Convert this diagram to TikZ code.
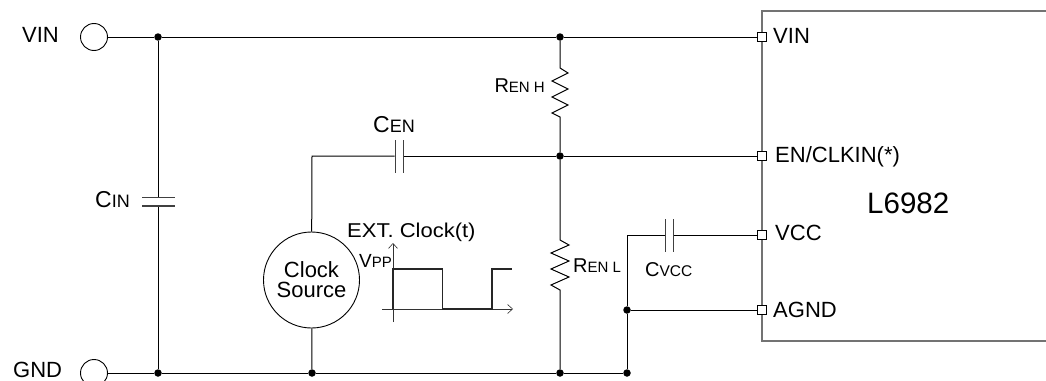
\documentclass[tikz,border=0pt]{standalone}
\usepackage{fontspec}
\setmainfont{Liberation Sans}
\usetikzlibrary{arrows.meta}
\newcommand{\fs}[1]{\fontsize{#1}{#1}\selectfont}
\begin{document}
\begin{tikzpicture}[x=1pt,y=-1pt,
  wire/.style={line width=1pt, black},
  dotnode/.style={circle, fill=black, inner sep=0pt, minimum size=7.5pt},
  term/.style={circle, draw, line width=0.9pt, minimum size=27pt, inner sep=0pt},
  pinbox/.style={rectangle, draw, line width=0.7pt, minimum size=9pt, inner sep=0pt, fill=white},
  hplate/.style={rectangle, fill=black!75, inner sep=0pt, minimum width=33pt, minimum height=1.4pt},
  vplate/.style={rectangle, fill=black!75, inner sep=0pt, minimum width=1.4pt, minimum height=33pt},
  lbl/.style={inner sep=0pt, font=\fs{22}},
  wave/.style={line width=1.2pt, black!85},
  axis/.style={line width=0.6pt, black!80, -{Straight Barb[length=5pt,width=9pt,line width=0.6pt]}}
]
\useasboundingbox (0,0) rectangle (1046,380);

% IC box
\draw[line width=1.3pt, black!55] (1070,11) -- (762,11) -- (762,341) -- (1070,341);

% terminals
\node[term] (tvin) at (94,37) {};
\node[term] (tgnd) at (94,373) {};
\node[lbl, anchor=base west] (lvin) at (22,42) {VIN};
\node[lbl, anchor=base west] (lgnd) at (13,377) {GND};

% junction dots
\node[dotnode] (j1) at (158,37) {};
\node[dotnode] (j2) at (560,37) {};
\node[dotnode] (j3) at (560,156) {};
\node[dotnode] (j4) at (158,373) {};
\node[dotnode] (j5) at (312,373) {};
\node[dotnode] (j6) at (560,373) {};
\node[dotnode] (j7) at (627,373) {};
\node[dotnode] (j8) at (627,310) {};

% capacitor plates
\node[hplate] (cina) at (158,197.5) {};
\node[hplate] (cinb) at (158,206) {};
\node[vplate] (cena) at (395.5,156) {};
\node[vplate] (cenb) at (403.5,156) {};
\node[vplate] (cva) at (665.5,235) {};
\node[vplate] (cvb) at (673.5,235) {};

% clock source
\node[circle, draw, line width=0.9pt, minimum size=96pt, inner sep=0pt, align=center, font=\fontsize{22}{20}\selectfont] (clk) at (311.5,280) {Clock\\Source};

% coordinates
\coordinate (cenl) at (312,156);
\coordinate (cvl) at (627,235);
\coordinate (pvin) at (762,37);
\coordinate (pen) at (762,156);
\coordinate (pvcc) at (762,235);
\coordinate (pagnd) at (762,310);

% wires
\draw[wire] (tvin.east) -- (j1) -- (j2) -- (pvin);
\draw[wire] (tgnd.east) -- (j4) -- (j5) -- (j6) -- (j7);
\draw[wire] (j1) -- (cina);
\draw[wire] (cinb) -- (j4);
\draw[wire] (clk) -- (cenl) -- (cena);
\draw[wire] (cenb) -- (j3) -- (pen);
\draw[wire] (clk) -- (j5);
\draw[wire] (j2) -- ++(0,31) -- ++(8,5) -- ++(-16,8) -- ++(16,8) -- ++(-16,8) -- ++(16,8) -- ++(-16,8) -- ++(8,4) -- (j3);
\draw[wire] (j3) -- ++(0,84) -- ++(9,5) -- ++(-18,8) -- ++(18,8) -- ++(-18,8) -- ++(18,8) -- ++(-18,8) -- ++(9,5) -- (j6);
\draw[wire] (j7) -- (j8) -- (cvl) -- (cva);
\draw[wire] (cvb) -- (pvcc);
\draw[wire] (j8) -- (pagnd);

% pins
\node[pinbox] (npvin) at (pvin) {};
\node[pinbox] (npen) at (pen) {};
\node[pinbox] (npvcc) at (pvcc) {};
\node[pinbox] (npagnd) at (pagnd) {};

% pin labels
\node[lbl, anchor=base west] (tpvin) at (773,43) {VIN};
\node[lbl, anchor=base west] (tpen) at (775,162) {EN/CLKIN(*)};
\node[lbl, anchor=base west] (tpvcc) at (775,240) {VCC};
\node[lbl, anchor=base west] (tpagnd) at (773,317) {AGND};
\node[inner sep=0pt, anchor=base west, font=\fs{29.5}] (tic) at (867,213) {L6982};

% component labels
\node[inner sep=0pt, anchor=base west] (tcin) at (95,207) {\fs{23}C\fs{18}IN};
\node[inner sep=0pt, anchor=base west] (tcen) at (373,132) {\fs{23}C\fs{18}EN};
\node[inner sep=0pt, anchor=base east] (trh) at (545,92) {\fs{20}R\fs{15}EN H};
\node[inner sep=0pt, anchor=base west] (trl) at (573,272) {\fs{20}R\fs{15}EN L};
\node[inner sep=0pt, anchor=base west] (tcv) at (645,276) {\fs{20}C\fs{15.5}VCC};

% waveform
\node[inner sep=0pt, anchor=base west, font=\fs{20}, xscale=1.1] (text) at (347,237) {EXT. Clock(t)};
\node[inner sep=0pt, anchor=base west] (tvpp) at (359,267) {\fs{19}V\fs{15}PP};
\draw[axis] (393,322) -- (393,243);
\draw[axis] (382,309) -- (513,309);
\draw[wave] (393,309) -- (393,269) -- (442.5,269) -- (442.5,309) -- (492,309) -- (492,269) -- (512,269);
\end{tikzpicture}
\end{document}
